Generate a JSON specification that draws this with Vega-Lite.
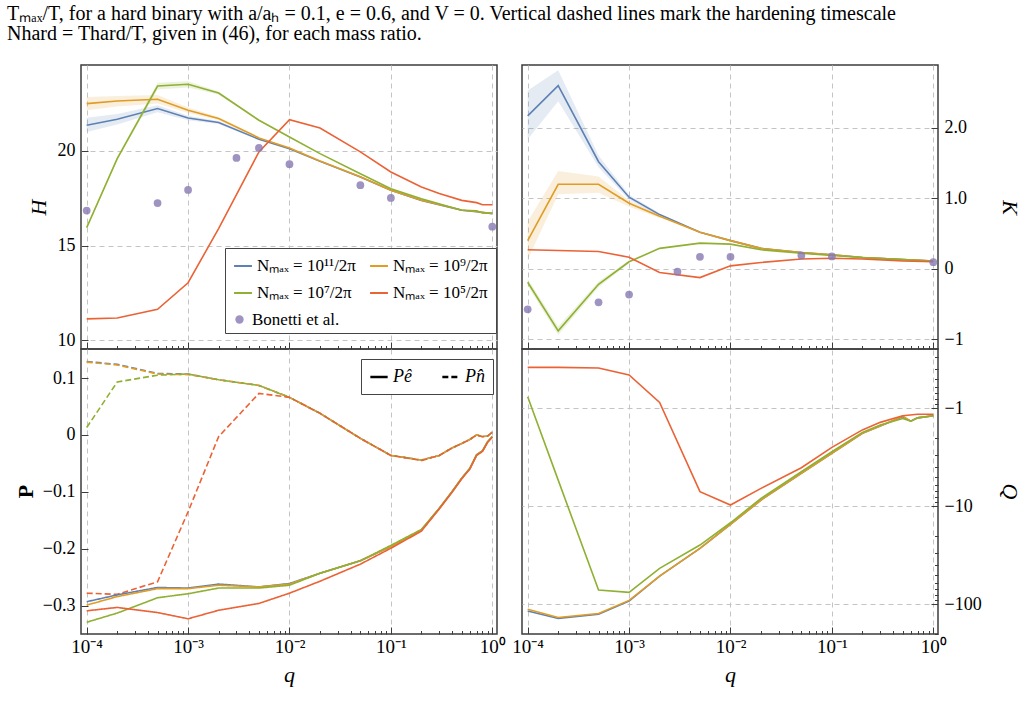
{
"$schema":"https://vega.github.io/schema/vega-lite/v6.json",
"padding":{"left":7,"top":4,"right":4,"bottom":4},
"bounds":"flush",
"columns":2,
"spacing":{"row":0,"column":25},
"title":{"text":["Tₘₐₓ/T, for a hard binary with a/aₕ = 0.1, e = 0.6, and V = 0.   Vertical dashed lines mark the hardening timescale","Nhard = Thard/T, given in (46), for each mass ratio."],"anchor":"start","frame":"group","dx":-74,"font":"Liberation Serif","fontSize":20,"fontWeight":"normal","lineHeight":20,"offset":20,"color":"black"},
"resolve":{"scale":{"color":"independent","strokeDash":"independent","shape":"independent","x":"independent","y":"independent"}},
"datasets":{
"H":[
{"s":"11","q":0.0001,"v":21.36,"lo":21.0,"hi":21.75},{"s":"11","q":0.0002,"v":21.67,"lo":21.4,"hi":21.95},{"s":"11","q":0.0005,"v":22.24,"lo":22.05,"hi":22.42},{"s":"11","q":0.001,"v":21.74,"lo":21.62,"hi":21.86},{"s":"11","q":0.002,"v":21.5,"lo":21.42,"hi":21.58},{"s":"11","q":0.005,"v":20.62,"lo":20.57,"hi":20.67},{"s":"11","q":0.01,"v":20.12},{"s":"11","q":0.02,"v":19.45},{"s":"11","q":0.05,"v":18.63},{"s":"11","q":0.1,"v":17.92},{"s":"11","q":0.2,"v":17.39},{"s":"11","q":0.5,"v":16.87},{"s":"11","q":0.7,"v":16.79},{"s":"11","q":1,"v":16.69},
{"s":"9","q":0.0001,"v":22.5,"lo":22.15,"hi":22.85},{"s":"9","q":0.0002,"v":22.64,"lo":22.35,"hi":22.9},{"s":"9","q":0.0005,"v":22.73,"lo":22.5,"hi":22.95},{"s":"9","q":0.001,"v":22.15,"lo":22.0,"hi":22.3},{"s":"9","q":0.002,"v":21.71,"lo":21.62,"hi":21.8},{"s":"9","q":0.005,"v":20.69,"lo":20.63,"hi":20.75},{"s":"9","q":0.01,"v":20.16},{"s":"9","q":0.02,"v":19.47},{"s":"9","q":0.05,"v":18.64},{"s":"9","q":0.1,"v":17.93},{"s":"9","q":0.2,"v":17.4},{"s":"9","q":0.5,"v":16.88},{"s":"9","q":0.7,"v":16.8},{"s":"9","q":1,"v":16.7},
{"s":"7","q":0.0001,"v":15.95,"lo":15.9,"hi":16.0},{"s":"7","q":0.0002,"v":19.59,"lo":19.5,"hi":19.68},{"s":"7","q":0.0005,"v":23.43,"lo":23.25,"hi":23.6},{"s":"7","q":0.001,"v":23.52,"lo":23.35,"hi":23.68},{"s":"7","q":0.002,"v":23.06,"lo":22.98,"hi":23.14},{"s":"7","q":0.005,"v":21.62,"lo":21.57,"hi":21.67},{"s":"7","q":0.01,"v":20.74},{"s":"7","q":0.02,"v":19.86},{"s":"7","q":0.05,"v":18.8},{"s":"7","q":0.1,"v":18.01},{"s":"7","q":0.2,"v":17.48},{"s":"7","q":0.5,"v":16.87},{"s":"7","q":0.7,"v":16.84},{"s":"7","q":0.8,"v":16.72},{"s":"7","q":1,"v":16.72},
{"s":"5","q":0.0001,"v":11.13},{"s":"5","q":0.0002,"v":11.18},{"s":"5","q":0.0005,"v":11.64},{"s":"5","q":0.001,"v":13.04},{"s":"5","q":0.002,"v":15.9},{"s":"5","q":0.005,"v":19.95},{"s":"5","q":0.01,"v":21.65},{"s":"5","q":0.02,"v":21.21},{"s":"5","q":0.05,"v":19.95},{"s":"5","q":0.1,"v":18.89},{"s":"5","q":0.2,"v":18.1},{"s":"5","q":0.3,"v":17.75},{"s":"5","q":0.5,"v":17.39},{"s":"5","q":0.7,"v":17.27},{"s":"5","q":0.8,"v":17.16},{"s":"5","q":1,"v":17.16}
],
"BH":[
{"s":"B","q":0.0001,"v":16.85},{"s":"B","q":0.0005,"v":17.25},{"s":"B","q":0.001,"v":17.94},{"s":"B","q":0.003,"v":19.63},{"s":"B","q":0.005,"v":20.16},{"s":"B","q":0.01,"v":19.3},{"s":"B","q":0.05,"v":18.19},{"s":"B","q":0.1,"v":17.52},{"s":"B","q":1,"v":16.0}
],
"K":[
{"s":"11","q":0.0001,"v":2.17,"lo":1.84,"hi":2.53},{"s":"11","q":0.0002,"v":2.6,"lo":2.38,"hi":2.82},{"s":"11","q":0.0005,"v":1.52,"lo":1.44,"hi":1.61},{"s":"11","q":0.001,"v":1.016,"lo":0.98,"hi":1.05},{"s":"11","q":0.002,"v":0.77,"lo":0.75,"hi":0.79},{"s":"11","q":0.005,"v":0.52},{"s":"11","q":0.01,"v":0.4},{"s":"11","q":0.02,"v":0.29},{"s":"11","q":0.05,"v":0.23},{"s":"11","q":0.1,"v":0.2},{"s":"11","q":0.2,"v":0.16},{"s":"11","q":0.5,"v":0.13},{"s":"11","q":1,"v":0.11},
{"s":"9","q":0.0001,"v":0.4,"lo":0.13,"hi":0.67},{"s":"9","q":0.0002,"v":1.2,"lo":1.06,"hi":1.39},{"s":"9","q":0.0005,"v":1.2,"lo":1.08,"hi":1.31},{"s":"9","q":0.001,"v":0.93,"lo":0.88,"hi":0.97},{"s":"9","q":0.002,"v":0.745,"lo":0.72,"hi":0.77},{"s":"9","q":0.005,"v":0.52},{"s":"9","q":0.01,"v":0.4},{"s":"9","q":0.02,"v":0.29},{"s":"9","q":0.05,"v":0.23},{"s":"9","q":0.1,"v":0.2},{"s":"9","q":0.2,"v":0.16},{"s":"9","q":0.5,"v":0.13},{"s":"9","q":1,"v":0.11},
{"s":"7","q":0.0001,"v":-0.19,"lo":-0.24,"hi":-0.14},{"s":"7","q":0.0002,"v":-0.88,"lo":-0.94,"hi":-0.82},{"s":"7","q":0.0005,"v":-0.22,"lo":-0.26,"hi":-0.18},{"s":"7","q":0.001,"v":0.1,"lo":0.08,"hi":0.12},{"s":"7","q":0.002,"v":0.29},{"s":"7","q":0.005,"v":0.365},{"s":"7","q":0.01,"v":0.35},{"s":"7","q":0.02,"v":0.27},{"s":"7","q":0.05,"v":0.22},{"s":"7","q":0.1,"v":0.19},{"s":"7","q":0.2,"v":0.16},{"s":"7","q":0.5,"v":0.13},{"s":"7","q":1,"v":0.11},
{"s":"5","q":0.0001,"v":0.27},{"s":"5","q":0.0002,"v":0.26},{"s":"5","q":0.0005,"v":0.246},{"s":"5","q":0.001,"v":0.165},{"s":"5","q":0.002,"v":-0.053},{"s":"5","q":0.005,"v":-0.124},{"s":"5","q":0.01,"v":0.042},{"s":"5","q":0.02,"v":0.09},{"s":"5","q":0.05,"v":0.14},{"s":"5","q":0.1,"v":0.15},{"s":"5","q":0.2,"v":0.14},{"s":"5","q":0.5,"v":0.11},{"s":"5","q":1,"v":0.1}
],
"BK":[
{"s":"B","q":0.0001,"v":-0.575},{"s":"B","q":0.0005,"v":-0.476},{"s":"B","q":0.001,"v":-0.366},{"s":"B","q":0.003,"v":-0.04},{"s":"B","q":0.005,"v":0.17},{"s":"B","q":0.01,"v":0.17},{"s":"B","q":0.05,"v":0.19},{"s":"B","q":0.1,"v":0.175},{"s":"B","q":1,"v":0.094}
],
"P":[
{"s":"11","c":"n","q":0.0001,"v":0.129},{"s":"11","c":"n","q":0.0002,"v":0.124},{"s":"11","c":"n","q":0.0005,"v":0.108},{"s":"11","c":"n","q":0.001,"v":0.107},{"s":"11","c":"n","q":0.002,"v":0.097},{"s":"11","c":"n","q":0.005,"v":0.087},{"s":"11","c":"n","q":0.01,"v":0.066},{"s":"11","c":"n","q":0.02,"v":0.038},{"s":"11","c":"n","q":0.05,"v":-0.006},{"s":"11","c":"n","q":0.1,"v":-0.036},{"s":"11","c":"n","q":0.2,"v":-0.044},{"s":"11","c":"n","q":0.3,"v":-0.036},{"s":"11","c":"n","q":0.4,"v":-0.023},{"s":"11","c":"n","q":0.5,"v":-0.015},{"s":"11","c":"n","q":0.6,"v":-0.008},{"s":"11","c":"n","q":0.7,"v":0.0},{"s":"11","c":"n","q":0.8,"v":-0.003},{"s":"11","c":"n","q":0.9,"v":-0.002},{"s":"11","c":"n","q":1,"v":0.005},
{"s":"9","c":"n","q":0.0001,"v":0.128},{"s":"9","c":"n","q":0.0002,"v":0.123},{"s":"9","c":"n","q":0.0005,"v":0.107},{"s":"9","c":"n","q":0.001,"v":0.106},{"s":"9","c":"n","q":0.002,"v":0.097},{"s":"9","c":"n","q":0.005,"v":0.087},{"s":"9","c":"n","q":0.01,"v":0.066},{"s":"9","c":"n","q":0.02,"v":0.038},{"s":"9","c":"n","q":0.05,"v":-0.006},{"s":"9","c":"n","q":0.1,"v":-0.036},{"s":"9","c":"n","q":0.2,"v":-0.044},{"s":"9","c":"n","q":0.3,"v":-0.036},{"s":"9","c":"n","q":0.4,"v":-0.023},{"s":"9","c":"n","q":0.5,"v":-0.015},{"s":"9","c":"n","q":0.6,"v":-0.008},{"s":"9","c":"n","q":0.7,"v":0.0},{"s":"9","c":"n","q":0.8,"v":-0.003},{"s":"9","c":"n","q":0.9,"v":-0.002},{"s":"9","c":"n","q":1,"v":0.005},
{"s":"7","c":"n","q":0.0001,"v":0.013},{"s":"7","c":"n","q":0.0002,"v":0.093},{"s":"7","c":"n","q":0.0005,"v":0.105},{"s":"7","c":"n","q":0.001,"v":0.107},{"s":"7","c":"n","q":0.002,"v":0.097},{"s":"7","c":"n","q":0.005,"v":0.087},{"s":"7","c":"n","q":0.01,"v":0.066},{"s":"7","c":"n","q":0.02,"v":0.038},{"s":"7","c":"n","q":0.05,"v":-0.006},{"s":"7","c":"n","q":0.1,"v":-0.036},{"s":"7","c":"n","q":0.2,"v":-0.044},{"s":"7","c":"n","q":0.3,"v":-0.036},{"s":"7","c":"n","q":0.4,"v":-0.023},{"s":"7","c":"n","q":0.5,"v":-0.015},{"s":"7","c":"n","q":0.6,"v":-0.008},{"s":"7","c":"n","q":0.7,"v":0.0},{"s":"7","c":"n","q":0.8,"v":-0.003},{"s":"7","c":"n","q":0.9,"v":-0.002},{"s":"7","c":"n","q":1,"v":0.005},
{"s":"5","c":"n","q":0.0001,"v":-0.278},{"s":"5","c":"n","q":0.0002,"v":-0.28},{"s":"5","c":"n","q":0.0005,"v":-0.258},{"s":"5","c":"n","q":0.001,"v":-0.135},{"s":"5","c":"n","q":0.002,"v":-0.003},{"s":"5","c":"n","q":0.005,"v":0.073},{"s":"5","c":"n","q":0.01,"v":0.066},{"s":"5","c":"n","q":0.02,"v":0.038},{"s":"5","c":"n","q":0.05,"v":-0.006},{"s":"5","c":"n","q":0.1,"v":-0.036},{"s":"5","c":"n","q":0.2,"v":-0.045},{"s":"5","c":"n","q":0.3,"v":-0.036},{"s":"5","c":"n","q":0.4,"v":-0.023},{"s":"5","c":"n","q":0.5,"v":-0.015},{"s":"5","c":"n","q":0.6,"v":-0.008},{"s":"5","c":"n","q":0.7,"v":0.0},{"s":"5","c":"n","q":0.8,"v":-0.003},{"s":"5","c":"n","q":0.9,"v":-0.002},{"s":"5","c":"n","q":1,"v":0.005},
{"s":"11","c":"e","q":0.0001,"v":-0.293},{"s":"11","c":"e","q":0.0002,"v":-0.281},{"s":"11","c":"e","q":0.0005,"v":-0.268},{"s":"11","c":"e","q":0.001,"v":-0.269},{"s":"11","c":"e","q":0.002,"v":-0.262},{"s":"11","c":"e","q":0.005,"v":-0.267},{"s":"11","c":"e","q":0.01,"v":-0.261},{"s":"11","c":"e","q":0.02,"v":-0.243},{"s":"11","c":"e","q":0.05,"v":-0.221},{"s":"11","c":"e","q":0.1,"v":-0.196},{"s":"11","c":"e","q":0.2,"v":-0.167},{"s":"11","c":"e","q":0.3,"v":-0.129},{"s":"11","c":"e","q":0.4,"v":-0.1},{"s":"11","c":"e","q":0.5,"v":-0.076},{"s":"11","c":"e","q":0.6,"v":-0.059},{"s":"11","c":"e","q":0.7,"v":-0.035},{"s":"11","c":"e","q":0.8,"v":-0.028},{"s":"11","c":"e","q":0.9,"v":-0.012},{"s":"11","c":"e","q":1,"v":-0.003},
{"s":"9","c":"e","q":0.0001,"v":-0.299},{"s":"9","c":"e","q":0.0002,"v":-0.284},{"s":"9","c":"e","q":0.0005,"v":-0.27},{"s":"9","c":"e","q":0.001,"v":-0.27},{"s":"9","c":"e","q":0.002,"v":-0.264},{"s":"9","c":"e","q":0.005,"v":-0.267},{"s":"9","c":"e","q":0.01,"v":-0.262},{"s":"9","c":"e","q":0.02,"v":-0.243},{"s":"9","c":"e","q":0.05,"v":-0.221},{"s":"9","c":"e","q":0.1,"v":-0.196},{"s":"9","c":"e","q":0.2,"v":-0.167},{"s":"9","c":"e","q":0.3,"v":-0.129},{"s":"9","c":"e","q":0.4,"v":-0.1},{"s":"9","c":"e","q":0.5,"v":-0.076},{"s":"9","c":"e","q":0.6,"v":-0.059},{"s":"9","c":"e","q":0.7,"v":-0.035},{"s":"9","c":"e","q":0.8,"v":-0.028},{"s":"9","c":"e","q":0.9,"v":-0.012},{"s":"9","c":"e","q":1,"v":-0.003},
{"s":"7","c":"e","q":0.0001,"v":-0.329},{"s":"7","c":"e","q":0.0002,"v":-0.313},{"s":"7","c":"e","q":0.0005,"v":-0.286},{"s":"7","c":"e","q":0.001,"v":-0.279},{"s":"7","c":"e","q":0.002,"v":-0.269},{"s":"7","c":"e","q":0.005,"v":-0.269},{"s":"7","c":"e","q":0.01,"v":-0.264},{"s":"7","c":"e","q":0.02,"v":-0.243},{"s":"7","c":"e","q":0.05,"v":-0.221},{"s":"7","c":"e","q":0.1,"v":-0.194},{"s":"7","c":"e","q":0.2,"v":-0.166},{"s":"7","c":"e","q":0.3,"v":-0.129},{"s":"7","c":"e","q":0.4,"v":-0.1},{"s":"7","c":"e","q":0.5,"v":-0.076},{"s":"7","c":"e","q":0.6,"v":-0.059},{"s":"7","c":"e","q":0.7,"v":-0.035},{"s":"7","c":"e","q":0.8,"v":-0.028},{"s":"7","c":"e","q":0.9,"v":-0.012},{"s":"7","c":"e","q":1,"v":-0.003},
{"s":"5","c":"e","q":0.0001,"v":-0.309},{"s":"5","c":"e","q":0.0002,"v":-0.303},{"s":"5","c":"e","q":0.0005,"v":-0.312},{"s":"5","c":"e","q":0.001,"v":-0.323},{"s":"5","c":"e","q":0.002,"v":-0.308},{"s":"5","c":"e","q":0.005,"v":-0.296},{"s":"5","c":"e","q":0.01,"v":-0.278},{"s":"5","c":"e","q":0.02,"v":-0.257},{"s":"5","c":"e","q":0.05,"v":-0.227},{"s":"5","c":"e","q":0.1,"v":-0.199},{"s":"5","c":"e","q":0.2,"v":-0.169},{"s":"5","c":"e","q":0.3,"v":-0.13},{"s":"5","c":"e","q":0.4,"v":-0.101},{"s":"5","c":"e","q":0.5,"v":-0.077},{"s":"5","c":"e","q":0.6,"v":-0.06},{"s":"5","c":"e","q":0.7,"v":-0.036},{"s":"5","c":"e","q":0.8,"v":-0.029},{"s":"5","c":"e","q":0.9,"v":-0.013},{"s":"5","c":"e","q":1,"v":-0.004}
],
"Q":[
{"s":"11","q":0.0001,"a":117},{"s":"11","q":0.0002,"a":139},{"s":"11","q":0.0005,"a":126},{"s":"11","q":0.001,"a":92.5},{"s":"11","q":0.002,"a":51.4},{"s":"11","q":0.005,"a":26.8},{"s":"11","q":0.01,"a":15.3},{"s":"11","q":0.02,"a":8.62},{"s":"11","q":0.05,"a":4.6},{"s":"11","q":0.1,"a":2.88},{"s":"11","q":0.2,"a":1.8},{"s":"11","q":0.3,"a":1.51},{"s":"11","q":0.5,"a":1.22},{"s":"11","q":0.6,"a":1.35},{"s":"11","q":0.7,"a":1.25},{"s":"11","q":1,"a":1.19},
{"s":"9","q":0.0001,"a":112},{"s":"9","q":0.0002,"a":136},{"s":"9","q":0.0005,"a":124},{"s":"9","q":0.001,"a":91},{"s":"9","q":0.002,"a":51.4},{"s":"9","q":0.005,"a":26.8},{"s":"9","q":0.01,"a":15.3},{"s":"9","q":0.02,"a":8.62},{"s":"9","q":0.05,"a":4.6},{"s":"9","q":0.1,"a":2.88},{"s":"9","q":0.2,"a":1.8},{"s":"9","q":0.3,"a":1.51},{"s":"9","q":0.5,"a":1.2},{"s":"9","q":0.6,"a":1.35},{"s":"9","q":0.7,"a":1.25},{"s":"9","q":1,"a":1.19},
{"s":"7","q":0.0001,"a":0.76},{"s":"7","q":0.0002,"a":5.4},{"s":"7","q":0.0005,"a":71.4},{"s":"7","q":0.001,"a":75.4},{"s":"7","q":0.002,"a":42.9},{"s":"7","q":0.005,"a":24.8},{"s":"7","q":0.01,"a":14.7},{"s":"7","q":0.02,"a":8.28},{"s":"7","q":0.05,"a":4.43},{"s":"7","q":0.1,"a":2.77},{"s":"7","q":0.2,"a":1.76},{"s":"7","q":0.3,"a":1.48},{"s":"7","q":0.5,"a":1.27},{"s":"7","q":0.6,"a":1.35},{"s":"7","q":0.7,"a":1.25},{"s":"7","q":1,"a":1.19},
{"s":"5","q":0.0001,"a":0.382},{"s":"5","q":0.0002,"a":0.382},{"s":"5","q":0.0005,"a":0.388},{"s":"5","q":0.001,"a":0.457},{"s":"5","q":0.002,"a":0.869},{"s":"5","q":0.005,"a":7.08},{"s":"5","q":0.01,"a":9.69},{"s":"5","q":0.02,"a":6.55},{"s":"5","q":0.05,"a":4.03},{"s":"5","q":0.1,"a":2.5},{"s":"5","q":0.2,"a":1.66},{"s":"5","q":0.3,"a":1.39},{"s":"5","q":0.5,"a":1.19},{"s":"5","q":0.7,"a":1.15},{"s":"5","q":1,"a":1.15}
]
},
"concat":[
{
"width":416,"height":284,
"layer":[
{"data":{"name":"H"},"transform":[{"filter":"isValid(datum.lo)"}],"mark":{"type":"area","opacity":0.16},
 "encoding":{
  "x":{"field":"q","type":"quantitative","scale":{"type":"log","domain":[0.0000879,1.113],"nice":false},
   "axis":{"orient":"bottom","values":[0.0001,0.0002,0.0003,0.0004,0.0005,0.0006,0.0007,0.0008,0.0009,0.001,0.002,0.003,0.004,0.005,0.006,0.007,0.008,0.009,0.01,0.02,0.03,0.04,0.05,0.06,0.07,0.08,0.09,0.1,0.2,0.3,0.4,0.5,0.6,0.7,0.8,0.9,1],"labels":false,"title":null,
    "tickSize":{"condition":{"test":"abs(log(datum.value)/LN10 - round(log(datum.value)/LN10)) < 0.001","value":-7},"value":-3.5},
    "gridOpacity":{"condition":{"test":"abs(log(datum.value)/LN10 - round(log(datum.value)/LN10)) < 0.001","value":1},"value":0}}},
  "y":{"field":"lo","type":"quantitative","scale":{"domain":[9.54,24.54],"nice":false,"zero":false},
   "axis":{"orient":"left","values":[10,15,20],"tickSize":-7,"labelPadding":13,"title":"H","titleFontStyle":"italic","titleAngle":270,"titleX":-43,"titleY":142,"titleBaseline":"middle","titleAlign":"center"}},
  "y2":{"field":"hi"},
  "color":{"field":"s","type":"nominal","scale":{"domain":["11","7","9","5"],"range":["#5E81B5","#8FB032","#E19C24","#EB6235"]},
   "legend":{"orient":"none","legendX":144,"legendY":183,"columns":2,"title":"\u00a0","titleOrient":"bottom","titleFontSize":17,"titlePadding":8,"symbolType":"stroke","symbolStrokeWidth":2,"symbolSize":320,"symbolOpacity":1,"padding":8,"strokeColor":"#444","fillColor":"white","rowPadding":9,"columnPadding":10,"labelFontSize":17,
    "labelExpr":"datum.value === '11' ? 'Nₘₐₓ = 10¹¹/2π' : datum.value === '9' ? 'Nₘₐₓ = 10⁹/2π' : datum.value === '7' ? 'Nₘₐₓ = 10⁷/2π' : 'Nₘₐₓ = 10⁵/2π'"}}
 }},
{"data":{"name":"H"},"mark":{"type":"line","strokeWidth":1.6},
 "encoding":{
  "x":{"field":"q","type":"quantitative","scale":{"type":"log","domain":[0.0000879,1.113],"nice":false}},
  "y":{"field":"v","type":"quantitative","scale":{"domain":[9.54,24.54],"nice":false,"zero":false}},
  "color":{"field":"s","type":"nominal","scale":{"domain":["11","7","9","5"],"range":["#5E81B5","#8FB032","#E19C24","#EB6235"]},
   "legend":{"orient":"none","legendX":144,"legendY":183,"columns":2,"title":"\u00a0","titleOrient":"bottom","titleFontSize":17,"titlePadding":8,"symbolType":"stroke","symbolStrokeWidth":2,"symbolSize":320,"symbolOpacity":1,"padding":8,"strokeColor":"#444","fillColor":"white","rowPadding":9,"columnPadding":10,"labelFontSize":17,
    "labelExpr":"datum.value === '11' ? 'Nₘₐₓ = 10¹¹/2π' : datum.value === '9' ? 'Nₘₐₓ = 10⁹/2π' : datum.value === '7' ? 'Nₘₐₓ = 10⁷/2π' : 'Nₘₐₓ = 10⁵/2π'"}}
 }},
{"data":{"name":"BH"},"mark":{"type":"point","filled":true,"size":60,"opacity":0.8,"color":"#8778B3"},
 "encoding":{
  "x":{"field":"q","type":"quantitative","scale":{"type":"log","domain":[0.0000879,1.113],"nice":false}},
  "y":{"field":"v","type":"quantitative","scale":{"domain":[9.54,24.54],"nice":false,"zero":false}},
  "shape":{"field":"s","type":"nominal","scale":{"domain":["B"],"range":["circle"]},
   "legend":{"orient":"none","legendX":150,"legendY":246,"title":null,"padding":0,"labelExpr":"'Bonetti et al.'","labelFontSize":17,"symbolFillColor":"#8778B3","symbolStrokeColor":"#8778B3","symbolStrokeWidth":0,"symbolSize":70,"symbolOpacity":0.8}}
 }}
]
},
{
"width":416,"height":284,
"layer":[
{"data":{"name":"K"},"transform":[{"filter":"isValid(datum.lo)"}],"mark":{"type":"area","opacity":0.16},
 "encoding":{
  "x":{"field":"q","type":"quantitative","scale":{"type":"log","domain":[0.0000879,1.113],"nice":false},
   "axis":{"orient":"bottom","values":[0.0001,0.0002,0.0003,0.0004,0.0005,0.0006,0.0007,0.0008,0.0009,0.001,0.002,0.003,0.004,0.005,0.006,0.007,0.008,0.009,0.01,0.02,0.03,0.04,0.05,0.06,0.07,0.08,0.09,0.1,0.2,0.3,0.4,0.5,0.6,0.7,0.8,0.9,1],"labels":false,"title":null,
    "tickSize":{"condition":{"test":"abs(log(datum.value)/LN10 - round(log(datum.value)/LN10)) < 0.001","value":-7},"value":-3.5},
    "gridOpacity":{"condition":{"test":"abs(log(datum.value)/LN10 - round(log(datum.value)/LN10)) < 0.001","value":1},"value":0}}},
  "y":{"field":"lo","type":"quantitative","scale":{"domain":[-1.138,2.893],"nice":false,"zero":false},
   "axis":{"orient":"right","values":[-1,0,1,2],"labelExpr":"datum.value == 0 ? '0' : datum.value == -1 ? '−1' : format(datum.value, '.1f')","tickSize":-7,"labelPadding":13,"title":"K","titleFontStyle":"italic","titleAngle":90,"titleX":71,"titleY":142,"titleBaseline":"middle","titleAlign":"center"}},
  "y2":{"field":"hi"},
  "color":{"field":"s","type":"nominal","scale":{"domain":["11","7","9","5"],"range":["#5E81B5","#8FB032","#E19C24","#EB6235"]},"legend":null}
 }},
{"mark":{"type":"rule","color":"black","strokeWidth":1},
 "encoding":{"y":{"datum":0,"type":"quantitative","scale":{"domain":[-1.138,2.893],"nice":false,"zero":false}}}},
{"data":{"name":"K"},"mark":{"type":"line","strokeWidth":1.6},
 "encoding":{
  "x":{"field":"q","type":"quantitative","scale":{"type":"log","domain":[0.0000879,1.113],"nice":false}},
  "y":{"field":"v","type":"quantitative","scale":{"domain":[-1.138,2.893],"nice":false,"zero":false}},
  "color":{"field":"s","type":"nominal","scale":{"domain":["11","7","9","5"],"range":["#5E81B5","#8FB032","#E19C24","#EB6235"]},"legend":null}
 }},
{"data":{"name":"BK"},"mark":{"type":"circle","size":60,"opacity":0.8,"color":"#8778B3"},
 "encoding":{
  "x":{"field":"q","type":"quantitative","scale":{"type":"log","domain":[0.0000879,1.113],"nice":false}},
  "y":{"field":"v","type":"quantitative","scale":{"domain":[-1.138,2.893],"nice":false,"zero":false}}
 }}
]
},
{
"width":416,"height":285,
"layer":[
{"mark":{"type":"rule","color":"black","strokeWidth":1},
 "encoding":{"y":{"datum":0,"type":"quantitative","scale":{"domain":[-0.3497,0.151],"nice":false,"zero":false}}}},
{"data":{"name":"P"},"mark":{"type":"line","strokeWidth":1.6},
 "encoding":{
  "x":{"field":"q","type":"quantitative","scale":{"type":"log","domain":[0.0000879,1.113],"nice":false},
   "axis":{"orient":"bottom","values":[0.0001,0.0002,0.0003,0.0004,0.0005,0.0006,0.0007,0.0008,0.0009,0.001,0.002,0.003,0.004,0.005,0.006,0.007,0.008,0.009,0.01,0.02,0.03,0.04,0.05,0.06,0.07,0.08,0.09,0.1,0.2,0.3,0.4,0.5,0.6,0.7,0.8,0.9,1],
    "labelExpr":"abs(log(datum.value)/LN10 - round(log(datum.value)/LN10)) > 0.001 ? '' : '10' + (round(log(datum.value)/LN10) == 0 ? '⁰' : round(log(datum.value)/LN10) == -1 ? '⁻¹' : round(log(datum.value)/LN10) == -2 ? '⁻²' : round(log(datum.value)/LN10) == -3 ? '⁻³' : '⁻⁴')",
    "labelOverlap":false,"labelFlush":false,"labelBound":false,"labelPadding":10,"labelFontSize":19,
    "tickSize":{"condition":{"test":"abs(log(datum.value)/LN10 - round(log(datum.value)/LN10)) < 0.001","value":-7},"value":-3.5},
    "gridOpacity":{"condition":{"test":"abs(log(datum.value)/LN10 - round(log(datum.value)/LN10)) < 0.001","value":1},"value":0},
    "title":"q","titleFontStyle":"italic","titleX":208,"titleY":40,"titleBaseline":"middle","titleAlign":"center"}},
  "y":{"field":"v","type":"quantitative","scale":{"domain":[-0.3497,0.151],"nice":false,"zero":false},
   "axis":{"orient":"left","values":[-0.3,-0.2,-0.1,0,0.1],"labelExpr":"datum.value == 0 ? '0' : format(datum.value, '.1f')","tickSize":-7,"labelPadding":13,"title":"P","titleFontWeight":"bold","titleAngle":270,"titleX":-56,"titleY":142,"titleBaseline":"middle","titleAlign":"center"}},
  "color":{"field":"s","type":"nominal","scale":{"domain":["11","7","9","5"],"range":["#5E81B5","#8FB032","#E19C24","#EB6235"]},"legend":null},
  "strokeDash":{"field":"c","type":"nominal","scale":{"domain":["e","n"],"range":[[1,0],[6,3]]},
   "legend":{"orient":"none","legendX":280,"legendY":10,"direction":"horizontal","title":null,"labelExpr":"datum.value === 'e' ? 'Pê' : 'Pn̂'","symbolStrokeColor":"black","symbolStrokeWidth":2.5,"symbolSize":300,"padding":8,"strokeColor":"#444","fillColor":"white","columnPadding":25,"labelFontSize":18,"labelFontStyle":"italic"}}
 }}
]
},
{
"width":416,"height":285,
"layer":[
{"data":{"name":"Q"},"mark":{"type":"line","strokeWidth":1.6},
 "encoding":{
  "x":{"field":"q","type":"quantitative","scale":{"type":"log","domain":[0.0000879,1.113],"nice":false},
   "axis":{"orient":"bottom","values":[0.0001,0.0002,0.0003,0.0004,0.0005,0.0006,0.0007,0.0008,0.0009,0.001,0.002,0.003,0.004,0.005,0.006,0.007,0.008,0.009,0.01,0.02,0.03,0.04,0.05,0.06,0.07,0.08,0.09,0.1,0.2,0.3,0.4,0.5,0.6,0.7,0.8,0.9,1],
    "labelExpr":"abs(log(datum.value)/LN10 - round(log(datum.value)/LN10)) > 0.001 ? '' : '10' + (round(log(datum.value)/LN10) == 0 ? '⁰' : round(log(datum.value)/LN10) == -1 ? '⁻¹' : round(log(datum.value)/LN10) == -2 ? '⁻²' : round(log(datum.value)/LN10) == -3 ? '⁻³' : '⁻⁴')",
    "labelOverlap":false,"labelFlush":false,"labelBound":false,"labelPadding":10,"labelFontSize":19,
    "tickSize":{"condition":{"test":"abs(log(datum.value)/LN10 - round(log(datum.value)/LN10)) < 0.001","value":-7},"value":-3.5},
    "gridOpacity":{"condition":{"test":"abs(log(datum.value)/LN10 - round(log(datum.value)/LN10)) < 0.001","value":1},"value":0},
    "title":"q","titleFontStyle":"italic","titleX":208,"titleY":40,"titleBaseline":"middle","titleAlign":"center"}},
  "y":{"field":"a","type":"quantitative","scale":{"type":"log","domain":[0.248,200.5],"nice":false,"reverse":true},
   "axis":{"orient":"right","values":[0.3,0.4,0.5,0.6,0.7,0.8,0.9,1,2,3,4,5,6,7,8,9,10,20,30,40,50,60,70,80,90,100,200],
    "labelExpr":"abs(log(datum.value)/LN10 - round(log(datum.value)/LN10)) > 0.001 ? '' : '−' + format(datum.value, 'd')",
    "labelOverlap":false,"labelBound":false,"labelFlush":false,"labelPadding":13,
    "tickSize":{"condition":{"test":"abs(log(datum.value)/LN10 - round(log(datum.value)/LN10)) < 0.001","value":-7},"value":-3.5},
    "gridOpacity":{"condition":{"test":"abs(log(datum.value)/LN10 - round(log(datum.value)/LN10)) < 0.001","value":1},"value":0},
    "title":"Q","titleFontStyle":"italic","titleAngle":90,"titleX":71,"titleY":142,"titleBaseline":"middle","titleAlign":"center"}},
  "color":{"field":"s","type":"nominal","scale":{"domain":["11","7","9","5"],"range":["#5E81B5","#8FB032","#E19C24","#EB6235"]},"legend":null}
 }}
]
}
],
"config":{
 "view":{"stroke":"#3c3c3c","strokeWidth":1.5},
 "axis":{"domain":false,"labelFont":"Liberation Serif","labelFontSize":18,"labelColor":"black","titleFont":"Liberation Serif","titleFontSize":22,"titleFontWeight":"normal","titleColor":"black","tickColor":"#3c3c3c","tickWidth":1,"gridColor":"#c4c4c4","gridDash":[5,4],"gridWidth":1},
 "legend":{"labelFont":"Liberation Serif","labelFontSize":17,"labelColor":"black","titleFont":"Liberation Serif"}
}
}
